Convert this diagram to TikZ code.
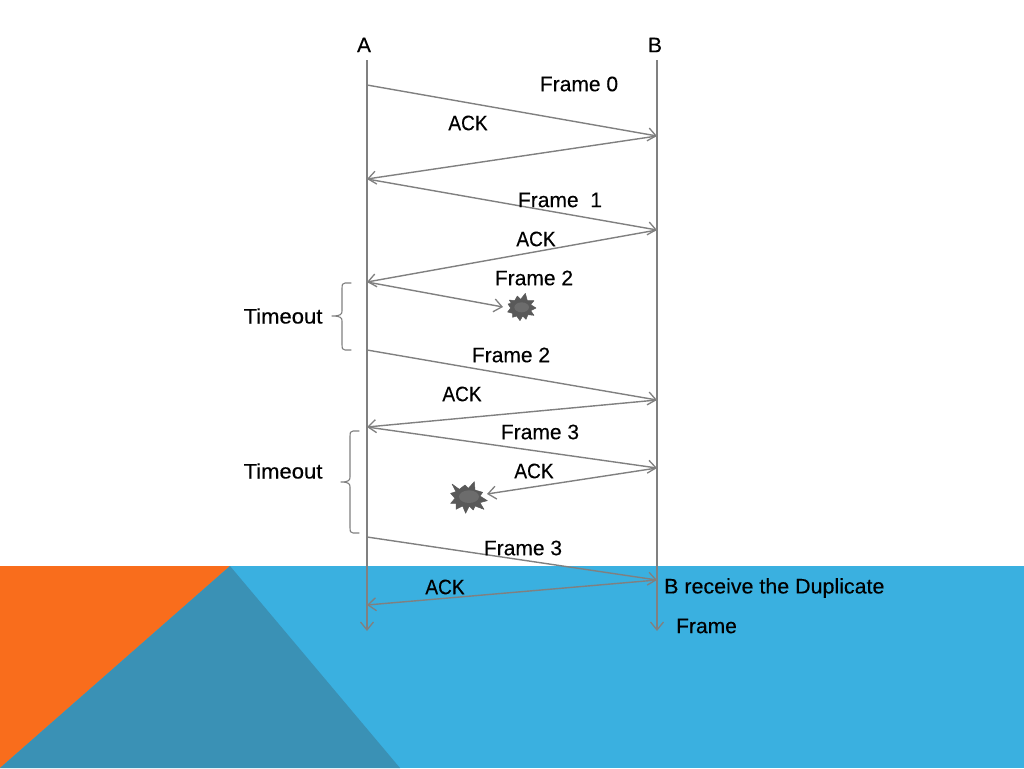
\documentclass[tikz,border=0pt]{standalone}
\usepackage{fontspec}
\setmainfont[FakeBold=0.25]{Liberation Sans}
\usetikzlibrary{arrows.meta}
\definecolor{lineg}{HTML}{808080}
\definecolor{bgblue}{HTML}{3AB0E0}
\definecolor{bgdark}{HTML}{3A91B5}
\definecolor{bgorange}{HTML}{F96D1C}
\definecolor{burstout}{HTML}{595959}
\definecolor{burstin}{HTML}{6C6C6C}
\tikzset{
  msg/.style={draw=lineg,line width=1.4pt,-{Straight Barb[length=8pt,width=13pt,line width=1.3pt]}},
  lifeline/.style={msg,line width=1.8pt},
  lbl/.style={font=\fontsize{21}{25}\selectfont,inner sep=0pt,text=black},
  ack/.style={lbl,xscale=0.91},
  tout/.style={lbl,xscale=1.05},
  bracepath/.style={draw=lineg,line width=1.1pt,line cap=round,line join=round},
  burst/.style={fill=burstout,draw=burstout,line width=0.5pt,line join=round},
  burstcore/.style={fill=burstin}
}
\begin{document}
\begin{tikzpicture}[x=1pt,y=-1pt]
\useasboundingbox (0,0) rectangle (1024,768);
\fill[white] (0,0) rectangle (1024,768);
\fill[bgblue] (0,566) rectangle (1024,768);
\fill[bgorange] (0,566) -- (230,566) -- (0,768) -- cycle;
\fill[bgdark] (230,566) -- (400,768) -- (0,768) -- cycle;

\node[lbl] (A) at (364,45) {A};
\node[lbl] (B) at (655,45) {B};
\coordinate (Atop) at (367,60);
\coordinate (Btop) at (657,60);
\coordinate (Aend) at (367,631);
\coordinate (Bend) at (657,631);
\draw[lifeline] (Atop) -- (Aend);
\draw[lifeline] (Btop) -- (Bend);

\coordinate (a1) at (367,85);
\coordinate (b1) at (657,136);
\coordinate (a2) at (367,179);
\coordinate (b2) at (657,230);
\coordinate (a3) at (367,282);
\coordinate (lost1) at (503,307);
\coordinate (a4) at (367,350);
\coordinate (b4) at (657,400);
\coordinate (a5) at (367,427);
\coordinate (b5) at (657,468);
\coordinate (lost2) at (487,494);
\coordinate (a6) at (367,537);
\coordinate (b6) at (657,580);
\coordinate (a7) at (367,605);

\draw[msg] (a1) -- (b1);
\draw[msg] (b1) -- (a2);
\draw[msg] (a2) -- (b2);
\draw[msg] (b2) -- (a3);
\draw[msg] (a3) -- (lost1);
\draw[msg] (a4) -- (b4);
\draw[msg] (b4) -- (a5);
\draw[msg] (a5) -- (b5);
\draw[msg] (b5) -- (lost2);
\draw[msg] (a6) -- (b6);
\draw[msg] (b6) -- (a7);

\begin{scope}[shift={(440,280)},x=0.3333pt,y=-0.3333pt]
\path[burst] (208,60)--(224,62)--(232,48)--(242,58)--(256,40)--(262,62)--(282,62)--(272,74)--(288,84)--(272,92)--(282,106)--(264,104)--(258,118)--(248,108)--(240,122)--(230,108)--(218,112)--(218,100)--(203,96)--(212,84)--(204,72)--(214,70)--cycle;
\fill[burstcore] (245,82) ellipse [x radius=22,y radius=15];
\end{scope}
\begin{scope}[shift={(430,470)},x=0.3333pt,y=-0.3333pt]
\path[burst] (66,42)--(88,58)--(105,45)--(115,55)--(133,35)--(135,60)--(158,67)--(150,78)--(172,92)--(150,98)--(162,118)--(135,108)--(130,120)--(118,108)--(107,130)--(98,108)--(78,118)--(78,100)--(62,100)--(75,85)--(62,70)--(78,65)--cycle;
\fill[burstcore] (117,80) ellipse [x radius=30,y radius=19];
\end{scope}

\draw[bracepath] (351,283) -- (345,283) .. controls (342,283) and (342,285) .. (342,288)
  -- (342,311) .. controls (342,314) and (341,316) .. (332,316)
  (332,316) .. controls (341,316) and (342,318) .. (342,321)
  -- (342,345) .. controls (342,348) and (342,350) .. (345,350) -- (351,350);
\draw[bracepath] (359,431) -- (353,431) .. controls (350,431) and (350,433) .. (350,436)
  -- (350,477) .. controls (350,480) and (349,482) .. (341,482)
  (341,482) .. controls (349,482) and (350,484) .. (350,487)
  -- (350,528) .. controls (350,531) and (350,533) .. (353,533) -- (359,533);

\node[lbl] (f0) at (579,84) {Frame 0};
\node[ack] (k0) at (468,123) {ACK};
\node[lbl] (f1) at (560,200) {Frame\ \ 1};
\node[ack] (k1) at (536,239) {ACK};
\node[lbl] (f2) at (534,278) {Frame 2};
\node[tout] (t1) at (283,316) {Timeout};
\node[lbl] (f2b) at (511,355) {Frame 2};
\node[ack] (k2) at (462,394) {ACK};
\node[lbl] (f3) at (540,432) {Frame 3};
\node[ack] (k3) at (534,471) {ACK};
\node[tout] (t2) at (283,471) {Timeout};
\node[lbl] (f3b) at (523,548) {Frame 3};
\node[ack] (k4) at (445,587) {ACK};
\node[lbl,anchor=west,xscale=1.02] (d1) at (664,588) {B receive the Duplicate};
\node[lbl,anchor=west] (d2) at (676,626) {Frame};
\end{tikzpicture}
\end{document}
